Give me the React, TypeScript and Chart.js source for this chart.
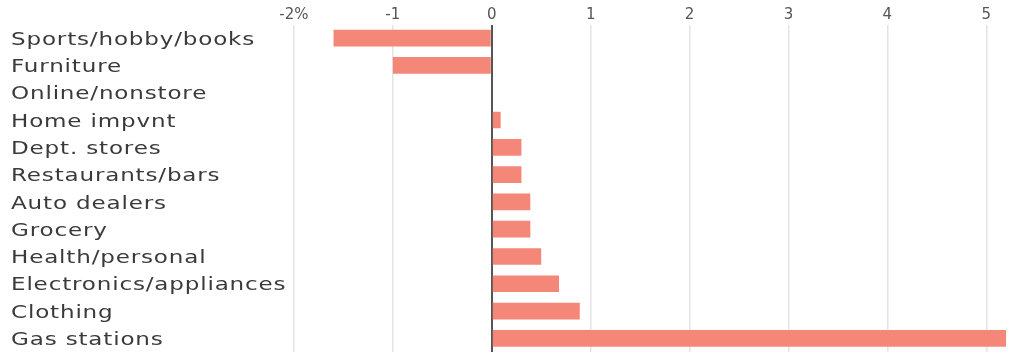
import React, { useEffect, useRef } from "react";
import { Chart, registerables } from "chart.js";

Chart.register(...registerables);

const categories = [
  "Sports/hobby/books",
  "Furniture",
  "Online/nonstore",
  "Home impvnt",
  "Dept. stores",
  "Restaurants/bars",
  "Auto dealers",
  "Grocery",
  "Health/personal",
  "Electronics/appliances",
  "Clothing",
  "Gas stations",
];

const changes = [-1.6, -1.0, 0, 0.09, 0.3, 0.3, 0.39, 0.39, 0.5, 0.68, 0.89, 5.2];

const tickValues = [-2, -1, 0, 1, 2, 3, 4, 5];
const tickLabels = ["-2%", "-1", "0", "1", "2", "3", "4", "5"];

const categoryLabelPlugin = {
  id: "categoryLabels",
  afterDraw(chart: any) {
    const ctx = chart.ctx;
    const yScale = chart.scales.y;
    ctx.save();
    ctx.font = "18px 'DejaVu Sans'";
    ctx.fillStyle = "#3a3a3a";
    ctx.textBaseline = "middle";
    ctx.textAlign = "left";
    try {
      (ctx as any).letterSpacing = "0.65px";
    } catch (e) {}
    categories.forEach((label, i) => {
      const y = yScale.getPixelForValue(i) + 2;
      ctx.save();
      ctx.translate(11, y);
      ctx.scale(1.28, 1);
      ctx.fillText(label, 0, 0);
      ctx.restore();
    });
    ctx.restore();
  },
};

export default function App() {
  const ref = useRef<HTMLCanvasElement>(null);

  useEffect(() => {
    if (!ref.current) return;
    const chart = new Chart(ref.current, {
      type: "bar",
      data: {
        labels: categories,
        datasets: [
          {
            data: changes,
            backgroundColor: "#f48778",
            borderWidth: 0,
            barPercentage: 0.61,
            categoryPercentage: 1,
          },
        ],
      },
      options: {
        indexAxis: "y",
        animation: false,
        responsive: false,
        maintainAspectRatio: false,
        layout: { padding: { left: 10, right: 1, top: 0, bottom: 2 } },
        plugins: { legend: { display: false }, tooltip: { enabled: false } },
        scales: {
          x: {
            position: "top",
            min: -2.05,
            max: 5.25,
            afterBuildTicks: (axis: any) => {
              axis.ticks = tickValues.map((v) => ({ value: v }));
            },
            afterFit: (axis: any) => {
              axis.height = 24.5;
            },
            border: { display: false },
            grid: {
              drawTicks: false,
              color: (ctx: any) => (ctx.tick && ctx.tick.value === 0 ? "#555555" : "#e4e4e4"),
              lineWidth: (ctx: any) => (ctx.tick && ctx.tick.value === 0 ? 2 : 1.5),
            },
            ticks: {
              padding: 0,
              color: "#555555",
              font: { family: "DejaVu Sans", size: 15 },
              callback: (v: any) => {
                const i = tickValues.indexOf(Number(v));
                return i >= 0 ? tickLabels[i] : String(v);
              },
            },
          },
          y: {
            afterFit: (axis: any) => {
              axis.width = 279;
            },
            border: { display: false },
            grid: { display: false, drawTicks: false },
            ticks: { display: false },
          },
        },
      },
      plugins: [categoryLabelPlugin],
    });
    return () => chart.destroy();
  }, []);

  return (
    <div style={{ position: "fixed", left: 0, top: 0, width: 1012, height: 354, background: "#fff" }}>
      <canvas ref={ref} width={1012} height={354} style={{ width: 1012, height: 354, display: "block" }} />
    </div>
  );
}
